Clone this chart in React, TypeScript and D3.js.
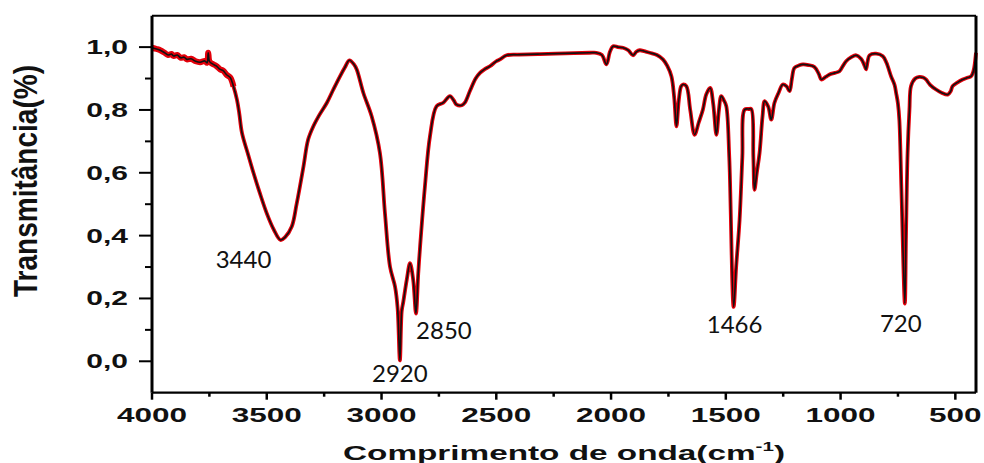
import React from "react";
import * as d3 from "d3";

// FTIR spectrum: wavenumber (cm-1) and transmittance
const wavenumbers: number[] = [
  4000, 3980, 3964, 3945, 3930, 3915, 3906, 3890, 3875, 3860, 3848, 3830, 3810, 3790, 3770, 3760, 3755, 3750,
  3740, 3720, 3703, 3690, 3675, 3659, 3645, 3630, 3620, 3608, 3580, 3558, 3530, 3500, 3470, 3440, 3420, 3391,
  3370, 3340, 3320, 3297, 3270, 3238, 3210, 3181, 3160, 3140, 3120, 3108, 3079, 3043, 3007, 2985, 2963, 2941,
  2930, 2920, 2912, 2905, 2890, 2876, 2862, 2850, 2840, 2832, 2811, 2789, 2760, 2731, 2702, 2685, 2673, 2650,
  2637, 2615, 2590, 2571, 2550, 2528, 2500, 2484, 2455, 2400, 2310, 2200, 2093, 2064, 2040, 2020, 2005, 1991,
  1970, 1948, 1925, 1904, 1890, 1875, 1855, 1832, 1800, 1774, 1755, 1737, 1725, 1715, 1705, 1695, 1687, 1672,
  1655, 1636, 1618, 1600, 1585, 1568, 1555, 1541, 1530, 1520, 1508, 1498, 1485, 1466, 1455, 1440, 1428, 1418,
  1400, 1389, 1380, 1375, 1365, 1353, 1340, 1331, 1315, 1302, 1288, 1270, 1252, 1235, 1222, 1212, 1201, 1180,
  1164, 1140, 1114, 1095, 1084, 1065, 1048, 1025, 1005, 990, 976, 955, 932, 910, 895, 889, 882, 874, 845, 816,
  800, 780, 765, 758, 750, 744, 735, 720, 715, 708, 700, 693, 675, 657, 640, 628, 610, 584, 560, 533, 520, 512,
  490, 468, 445, 432, 425, 418, 410,
];

const transmittance: number[] = [
  0.998, 0.994, 0.99, 0.982, 0.975, 0.978, 0.972, 0.975, 0.966, 0.968, 0.961, 0.963, 0.955, 0.952, 0.956, 0.95, 0.982, 0.955,
  0.948, 0.94, 0.929, 0.925, 0.912, 0.903, 0.875, 0.833, 0.79, 0.727, 0.655, 0.6, 0.535, 0.471, 0.42, 0.386, 0.395, 0.429,
  0.5, 0.62, 0.705, 0.748, 0.785, 0.823, 0.865, 0.907, 0.935, 0.958, 0.945, 0.929, 0.854, 0.78, 0.663, 0.471, 0.301, 0.237,
  0.17, 0.003, 0.16, 0.19, 0.26, 0.312, 0.259, 0.152, 0.28, 0.365, 0.556, 0.716, 0.812, 0.823, 0.844, 0.83, 0.817, 0.815,
  0.823, 0.86, 0.9, 0.918, 0.93, 0.939, 0.955, 0.961, 0.974, 0.976, 0.978, 0.98, 0.982, 0.982, 0.975, 0.945, 0.985, 1.003,
  1.0, 0.998, 0.99, 0.974, 0.985, 0.99, 0.987, 0.982, 0.975, 0.961, 0.94, 0.907, 0.84, 0.748, 0.83, 0.875, 0.881, 0.876,
  0.8, 0.721, 0.76, 0.801, 0.85, 0.87, 0.82, 0.721, 0.8, 0.844, 0.83, 0.812, 0.65, 0.173, 0.3, 0.45, 0.65, 0.801,
  0.803, 0.803, 0.65, 0.546, 0.6, 0.663, 0.78, 0.828, 0.81, 0.769, 0.823, 0.855, 0.881, 0.875, 0.86, 0.9, 0.934, 0.942,
  0.945, 0.943, 0.937, 0.915, 0.897, 0.905, 0.913, 0.918, 0.923, 0.94, 0.955, 0.967, 0.974, 0.962, 0.94, 0.929, 0.955, 0.974, 0.979, 0.971,
  0.95, 0.907, 0.88, 0.854, 0.82, 0.769, 0.55, 0.184, 0.4, 0.663, 0.8, 0.876, 0.9, 0.905, 0.903, 0.897, 0.88, 0.865, 0.855, 0.849, 0.86, 0.876,
  0.888, 0.897, 0.903, 0.907, 0.915, 0.934, 0.982,
];

// Labelled absorption bands
const bandLabels: string[] = ["3440", "2920", "2850", "1466", "720"];
const bandValues: number[] = [0.386, 0.003, 0.152, 0.173, 0.184];

const xTickValues: number[] = [4000, 3500, 3000, 2500, 2000, 1500, 1000, 500];
const xMinorTicks: number[] = [3750, 3250, 2750, 2250, 1750, 1250, 750];
const yTickValues: number[] = [0, 0.2, 0.4, 0.6, 0.8, 1.0];
const yMinorTicks: number[] = [0.1, 0.3, 0.5, 0.7, 0.9];

const W = 984;
const H = 463;
const left = 152;
const right = 976;
const top = 15.7;
const bottom = 392.7;

// label offsets (px) from each band minimum
const labelDx: number[] = [-37, 0, 28, 1, -4];
const labelDy: number[] = [28, 22, 25, 26, 29];

export default function App() {
  const x = d3.scaleLinear().domain([4000, 410]).range([left, right]);
  const y = d3.scaleLinear().domain([-0.1, 1.1]).range([bottom, top]);

  const points: [number, number][] = wavenumbers.map((w, i) => [w, transmittance[i]]);
  const line = d3
    .line<[number, number]>()
    .x((d) => x(d[0]))
    .y((d) => y(d[1]))
    .curve(d3.curveCatmullRom.alpha(0.5));
  const path = line(points) || "";
  // noisy high-wavenumber stretch gets a heavier red trace
  const noisyPath = line(points.filter((p) => p[0] >= 3640)) || "";

  const tickFont = "'Liberation Sans', Arial, sans-serif";

  return (
    <svg
      width={W}
      height={H}
      viewBox={`0 0 ${W} ${H}`}
      style={{ position: "absolute", left: 0, top: 0, background: "#fff" }}
    >
      <rect x={0} y={0} width={W} height={H} fill="#fff" />

      {/* spectrum: red underlay with a dark core */}
      <path d={noisyPath} fill="none" stroke="#e3000b" strokeWidth={6} strokeLinejoin="round" />
      <path d={path} fill="none" stroke="#e3000b" strokeWidth={3.8} strokeLinejoin="round" />
      <path d={path} fill="none" stroke="#111" strokeWidth={1.6} strokeLinejoin="round" />

      {/* frame */}
      <line x1={left} x2={right} y1={top} y2={top} stroke="#000" strokeWidth={2} />
      <line x1={left} x2={right} y1={bottom} y2={bottom} stroke="#000" strokeWidth={2.2} />
      <line x1={left} x2={left} y1={top} y2={bottom} stroke="#000" strokeWidth={3} />
      <line x1={right} x2={right} y1={top} y2={bottom} stroke="#000" strokeWidth={3} />

      {/* x ticks */}
      {xTickValues.map((t) => (
        <g key={`xt${t}`}>
          <line x1={x(t)} x2={x(t)} y1={bottom} y2={bottom + 7} stroke="#000" strokeWidth={2.5} />
          <text
            transform={`translate(${x(t)},${422}) scale(1.5,1)`}
            textAnchor="middle"
            fontFamily={tickFont}
            fontWeight="bold"
            fontSize={21}
            fill="#111"
          >
            {t}
          </text>
        </g>
      ))}
      {xMinorTicks.map((t) => (
        <line key={`xm${t}`} x1={x(t)} x2={x(t)} y1={bottom} y2={bottom + 4} stroke="#000" strokeWidth={2.5} />
      ))}

      {/* y ticks */}
      {yTickValues.map((t) => (
        <g key={`yt${t}`}>
          <line x1={left - 13} x2={left} y1={y(t)} y2={y(t)} stroke="#000" strokeWidth={2} />
          <text
            transform={`translate(${128},${y(t) + 7}) scale(1.5,1)`}
            textAnchor="end"
            fontFamily={tickFont}
            fontWeight="bold"
            fontSize={20}
            fill="#111"
          >
            {d3.format(".1f")(t).replace(".", ",")}
          </text>
        </g>
      ))}
      {yMinorTicks.map((t) => (
        <line key={`ym${t}`} x1={left - 7} x2={left} y1={y(t)} y2={y(t)} stroke="#000" strokeWidth={2} />
      ))}

      {/* band annotations */}
      {bandLabels.map((lab, i) => (
        <text
          key={lab}
          x={x(+lab) + labelDx[i]}
          y={y(bandValues[i]) + labelDy[i]}
          textAnchor="middle"
          fontFamily="Lato, 'Open Sans', sans-serif"
          fontSize={24}
          fill="#111"
        >
          {lab}
        </text>
      ))}

      {/* axis titles */}
      <text
        x={564}
        y={460}
        textAnchor="middle"
        fontFamily={tickFont}
        fontWeight="bold"
        fontSize={21}
        textLength={442}
        lengthAdjust="spacingAndGlyphs"
        fill="#111"
      >
        Comprimento de onda(cm
        <tspan fontSize={13} dy={-9}>-1</tspan>
        <tspan dy={9}>)</tspan>
      </text>
      <text
        transform={`translate(37,181) rotate(-90)`}
        textAnchor="middle"
        fontFamily={tickFont}
        fontWeight="bold"
        fontSize={33}
        textLength={232}
        lengthAdjust="spacingAndGlyphs"
        fill="#111"
      >
        Transmitância(%)
      </text>
    </svg>
  );
}
